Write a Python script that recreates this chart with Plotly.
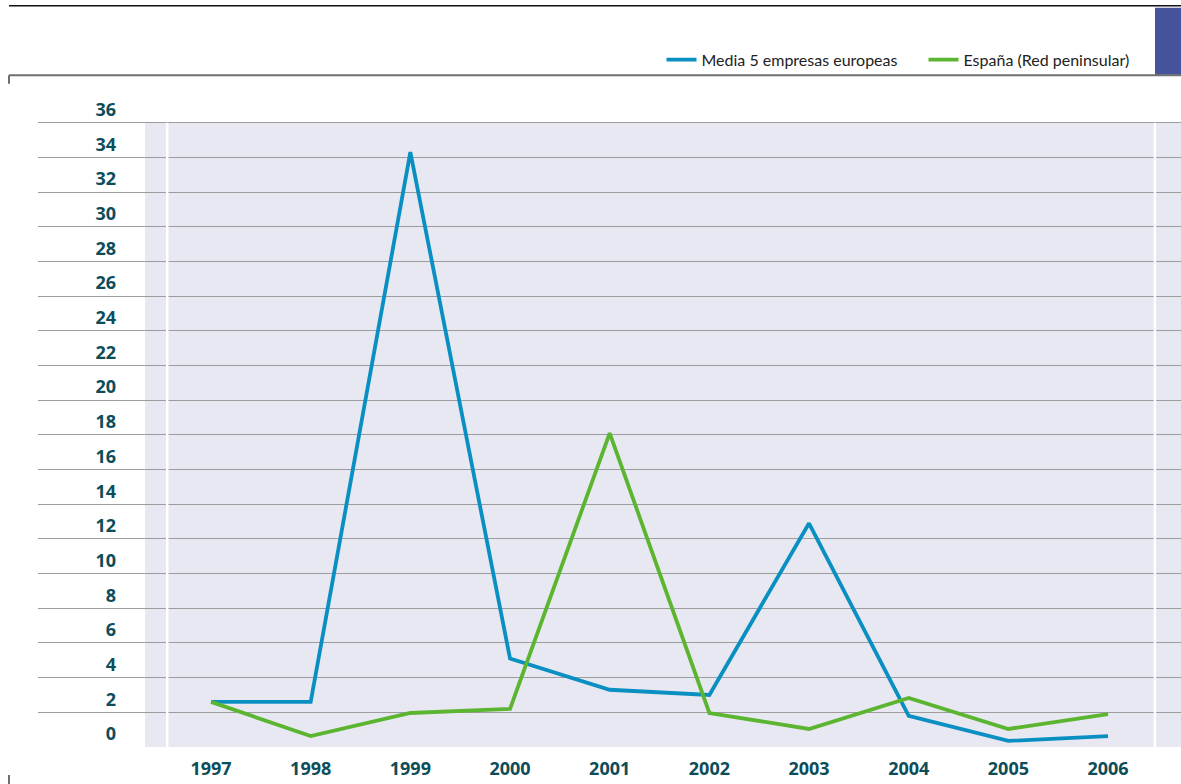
import plotly.graph_objects as go

years = [1997, 1998, 1999, 2000, 2001, 2002, 2003, 2004, 2005, 2006]
media_europea = [2.6, 2.6, 34.3, 5.1, 3.3, 3.0, 12.9, 1.8, 0.35, 0.63]
espana = [2.6, 0.63, 1.96, 2.2, 18.1, 1.96, 1.04, 2.83, 1.04, 1.9]
y_ticks = list(range(0, 37, 2))
y_labels = [str(v) for v in y_ticks]

W, H = 1181, 784
L, R = 38, 1181
TOP_PX, BOT_PX = 88.33, 747.0
PXW = R - L
PXH = BOT_PX - TOP_PX

def px(x):
    return (x - L) / PXW

def py(y):
    return (BOT_PX - y) / PXH

BLUE = "#0a8fc2"
GREEN = "#5cb531"
LABEL = "#0d4d5a"
FONT = "Open Sans, Lato, sans-serif"

fig = go.Figure()
fig.add_trace(go.Scatter(x=years, y=media_europea, mode="lines",
                         name="Media 5 empresas europeas", legend="legend",
                         line=dict(color=BLUE, width=3.8)))
fig.add_trace(go.Scatter(x=years, y=espana, mode="lines",
                         name="España (Red peninsular)", legend="legend2",
                         line=dict(color=GREEN, width=3.8)))
# helper trace so the label axis is drawn
fig.add_trace(go.Scatter(x=[years[0]], y=[0], mode="lines", yaxis="y2",
                         showlegend=False, hoverinfo="skip",
                         line=dict(color="rgba(0,0,0,0)")))

xr = [1995.264, 2006.732]
yr = [0, 38]

legend_style = dict(orientation="h", xanchor="left", yanchor="middle", y=py(60),
                    font=dict(family="Lato, Open Sans, sans-serif", size=16, color="#222222"),
                    bgcolor="rgba(0,0,0,0)", itemwidth=30)

fig.update_layout(
    width=W, height=H,
    margin=dict(l=L, r=W - R, t=TOP_PX, b=H - BOT_PX, pad=0, autoexpand=False),
    paper_bgcolor="white", plot_bgcolor="white",
    showlegend=True,
    legend=dict(x=px(661.5), **legend_style),
    legend2=dict(x=px(923.5), **legend_style),
    xaxis=dict(range=xr, tickvals=years, ticktext=[str(y) for y in years],
               showgrid=False, zeroline=False, showline=False, ticks="",
               ticklabelstandoff=9,
               tickfont=dict(family=FONT, size=18, color=LABEL, weight="bold")),
    yaxis=dict(range=yr, tickvals=y_ticks, showticklabels=False,
               showgrid=True, gridcolor="#9c9c9c", gridwidth=1.4,
               zeroline=False, showline=False, ticks=""),
    yaxis2=dict(range=yr, overlaying="y", anchor="free", side="left",
                position=px(116), tickvals=[v + 0.75 for v in y_ticks],
                ticktext=y_labels, showgrid=False, zeroline=False,
                showline=False, ticks="",
                tickfont=dict(family=FONT, size=18, color=LABEL, weight="bold")),
)

shapes = []
# shaded plot region (below gridlines)
shapes.append(dict(type="rect", xref="x", yref="y", x0=1996.338, x1=xr[1], y0=0, y1=36,
                   fillcolor="#e8e8f2", line=dict(width=0), layer="below"))
# white separators
for xv in (1996.56, 2006.47):
    shapes.append(dict(type="line", xref="x", yref="y", x0=xv, x1=xv, y0=0, y1=36,
                       line=dict(color="white", width=2.5), layer="between"))
# frame decorations
shapes.append(dict(type="line", xref="paper", yref="paper", x0=px(9), x1=px(1181),
                   y0=py(6), y1=py(6), line=dict(color="#111111", width=1.5)))
shapes.append(dict(type="rect", xref="paper", yref="paper", x0=px(1155), x1=px(1181),
                   y0=py(75), y1=py(8), fillcolor="#44539a", line=dict(width=0)))
shapes.append(dict(type="line", xref="paper", yref="paper", x0=px(9), x1=px(1181),
                   y0=py(75.5), y1=py(75.5), line=dict(color="#6e6e6e", width=2)))
shapes.append(dict(type="line", xref="paper", yref="paper", x0=px(9), x1=px(9),
                   y0=py(75.5), y1=py(84), line=dict(color="#6e6e6e", width=2)))
shapes.append(dict(type="line", xref="paper", yref="paper", x0=px(9), x1=px(9),
                   y0=py(775), y1=py(784), line=dict(color="#6e6e6e", width=2)))
fig.update_layout(shapes=shapes)

fig.write_html("out.html", config={"displayModeBar": False},
               post_script="document.body.style.margin='0';document.body.style.overflow='hidden';")
